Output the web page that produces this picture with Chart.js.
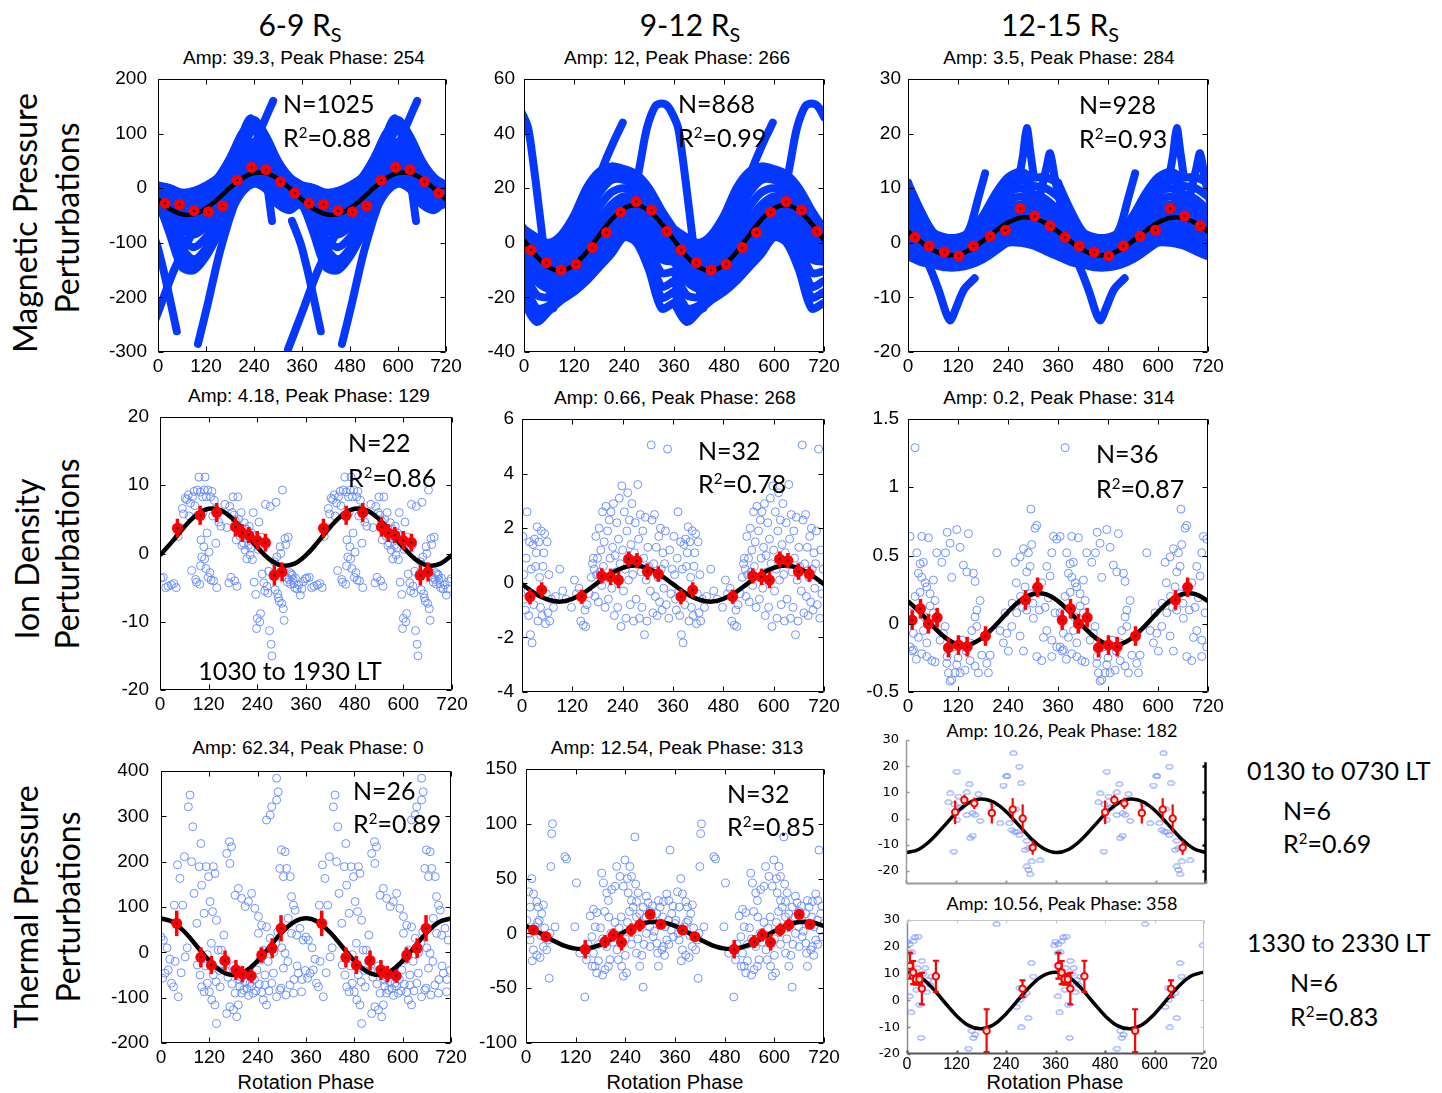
<!DOCTYPE html>
<html>
<head>
<meta charset="utf-8">
<script src="https://cdn.jsdelivr.net/npm/chart.js"></script>
<style>
  html, body { margin: 0; padding: 0; background: #fff; }
  body { width: 1442px; height: 1093px; position: relative; overflow: hidden;
         font-family: 'Liberation Sans', Arial, sans-serif; color: #000; }
  canvas { position: absolute; }
  .t { position: absolute; white-space: nowrap; line-height: 1; }
  .c { transform: translate(-50%, -50%); }
  .l { transform: translateY(-50%); }
  .rot { transform: translate(-50%, -50%) rotate(-90deg); }
  .cal { font-family: Lato, 'Open Sans', sans-serif; }
  .title { font-size: 30px; }
  .title sub { font-size: 0.66em; vertical-align: baseline; position: relative; top: 0.32em; }
  .amp { font-size: 19px; }
  .amp2 { font-size: 18px; }
  .ann { font-size: 25px; }
  .ann sup { font-size: 0.6em; vertical-align: baseline; position: relative; top: -0.62em; }
  .row { font-size: 32px; }
  .axt { font-size: 20px; }
</style>
</head>
<body>

<div class="t c cal title" style="left:300px;top:24px">6-9 R<sub>S</sub></div>
<div class="t c cal title" style="left:690px;top:24px">9-12 R<sub>S</sub></div>
<div class="t c cal title" style="left:1060px;top:24px">12-15 R<sub>S</sub></div>

<div class="t c amp" style="left:304px;top:57px">Amp: 39.3, Peak Phase: 254</div>
<div class="t c amp" style="left:677px;top:57px">Amp: 12, Peak Phase: 266</div>
<div class="t c amp" style="left:1059px;top:57px">Amp: 3.5, Peak Phase: 284</div>
<div class="t c amp" style="left:309px;top:395px">Amp: 4.18, Peak Phase: 129</div>
<div class="t c amp" style="left:675px;top:397px">Amp: 0.66, Peak Phase: 268</div>
<div class="t c amp" style="left:1059px;top:397px">Amp: 0.2, Peak Phase: 314</div>
<div class="t c amp" style="left:308px;top:747px">Amp: 62.34, Peak Phase: 0</div>
<div class="t c amp" style="left:677px;top:747px">Amp: 12.54, Peak Phase: 313</div>
<div class="t c cal amp2" style="left:1062px;top:730px">Amp: 10.26, Peak Phase: 182</div>
<div class="t c cal amp2" style="left:1062px;top:903px">Amp: 10.56, Peak Phase: 358</div>

<div class="t rot cal row" style="left:25px;top:223px">Magnetic Pressure</div>
<div class="t rot cal row" style="left:67px;top:218px">Perturbations</div>
<div class="t rot cal row" style="left:27px;top:559px">Ion Density</div>
<div class="t rot cal row" style="left:67px;top:554px">Perturbations</div>
<div class="t rot cal row" style="left:26px;top:907px">Thermal Pressure</div>
<div class="t rot cal row" style="left:68px;top:907px">Perturbations</div>

<div class="t c axt" style="left:306px;top:1082px">Rotation Phase</div>
<div class="t c axt" style="left:675px;top:1082px">Rotation Phase</div>
<div class="t c axt" style="left:1055px;top:1082px">Rotation Phase</div>

<div id="charts"></div>

<div class="t l cal ann" style="left:283px;top:103px">N=1025</div>
<div class="t l cal ann" style="left:283px;top:137px">R<sup>2</sup>=0.88</div>
<div class="t l cal ann" style="left:678px;top:103px">N=868</div>
<div class="t l cal ann" style="left:678px;top:137px">R<sup>2</sup>=0.99</div>
<div class="t l cal ann" style="left:1079px;top:104px">N=928</div>
<div class="t l cal ann" style="left:1079px;top:138px">R<sup>2</sup>=0.93</div>
<div class="t l cal ann" style="left:348px;top:442px">N=22</div>
<div class="t l cal ann" style="left:348px;top:477px">R<sup>2</sup>=0.86</div>
<div class="t c cal ann" style="left:290px;top:670px">1030 to 1930 LT</div>
<div class="t l cal ann" style="left:698px;top:450px">N=32</div>
<div class="t l cal ann" style="left:698px;top:483px">R<sup>2</sup>=0.78</div>
<div class="t l cal ann" style="left:1096px;top:453px">N=36</div>
<div class="t l cal ann" style="left:1096px;top:488px">R<sup>2</sup>=0.87</div>
<div class="t l cal ann" style="left:353px;top:790px">N=26</div>
<div class="t l cal ann" style="left:353px;top:823px">R<sup>2</sup>=0.89</div>
<div class="t l cal ann" style="left:727px;top:793px">N=32</div>
<div class="t l cal ann" style="left:727px;top:826px">R<sup>2</sup>=0.85</div>
<div class="t l cal ann" style="left:1247px;top:770px">0130 to 0730 LT</div>
<div class="t l cal ann" style="left:1283px;top:810px">N=6</div>
<div class="t l cal ann" style="left:1283px;top:843px">R<sup>2</sup>=0.69</div>
<div class="t l cal ann" style="left:1247px;top:942px">1330 to 2330 LT</div>
<div class="t l cal ann" style="left:1290px;top:982px">N=6</div>
<div class="t l cal ann" style="left:1290px;top:1016px">R<sup>2</sup>=0.83</div>

<script>
// phase grid for the fitted sinusoids (one rotation, repeated for the second)
const FIT_PHASE = [0, 30, 60, 90, 120, 150, 180, 210, 240, 270, 300, 330, 360];
const PHASE_TICKS = [0, 120, 240, 360, 480, 600, 720];

// ---- Magnetic pressure, 6-9 Rs
const mag69YTicks = [-300, -200, -100, 0, 100, 200];
const mag69Fit = [-20.8, -38.1, -47.8, -47.5, -37.1, -19.4, 0.8, 18.1, 27.8, 27.5, 17.1, -0.6, -20.8];
const mag69BinPhase = [18, 54, 90, 126, 162, 198, 234, 270, 306, 342];
const mag69BinVal = [-27.7, -29.5, -41.2, -43, -32.6, 14.5, 38.3, 34, 12, -8.8];
const mag69Band = [
  [5, 0, -8, -5, 5, 20, 55, 100, 125, 95, 50, 20, 5],
  [2, -6, -15, -16, -6, 12, 45, 88, 115, 85, 42, 16, 2],
  [0, -12, -22, -28, -18, 5, 35, 75, 105, 75, 35, 12, 0],
  [-4, -17, -28, -35, -25, -3, 27, 62, 85, 65, 32, 7, -4],
  [-8, -22, -35, -42, -32, -10, 20, 50, 65, 55, 28, 2, -8],
  [-13, -28, -44, -50, -40, -19, 11, 40, 55, 46, 20, -4, -13],
  [-18, -35, -52, -58, -48, -28, 2, 30, 45, 38, 12, -10, -18],
  [-22, -42, -63, -72, -59, -36, -6, 22, 38, 29, 6, -15, -22],
  [-25, -50, -75, -85, -70, -45, -15, 15, 30, 20, 0, -20, -25],
  [-28, -60, -92, -108, -90, -58, -22, 10, 24, 14, -9, -25, -28],
  [-30, -70, -110, -130, -110, -70, -30, 5, 18, 8, -18, -30, -30],
  [-26, -78, -128, -140, -118, -78, -38, -2, 13, 3, -24, -35, -26],
  [-22, -85, -145, -150, -125, -85, -45, -8, 8, -2, -30, -40, -22],
  [-5, -18, -38, -60, -48, -15, 45, 100, 115, 60, 22, 2, -5]
];
const mag69Tracks = [
  [[100, -285], [125, -210], [150, -130], [175, -65], [200, -10], [225, 45], [250, 95], [270, 130], [288, 160]],
  [[165, -40], [195, 30], [215, 105], [232, 128], [250, 95], [268, 30], [285, -60]],
  [[-25, -60], [-10, -88], [0, -110], [20, -170], [47, -262]],
  [[-35, -295], [0, -228], [40, -150], [80, -90], [110, -48]]
];

// ---- Magnetic pressure, 9-12 Rs
const mag912YTicks = [-40, -20, 0, 20, 40, 60];
const mag912Fit = [0.96, -4.9, -9.0, -10.2, -8.15, -3.46, 2.64, 8.5, 12.6, 13.8, 11.75, 7.06, 0.96];
const mag912BinPhase = [17, 54, 89, 125, 164, 198, 232, 269, 306, 343];
const mag912BinVal = [-2.6, -7.3, -10, -7.9, -1.7, 3.8, 11.2, 15.1, 12, 4.2];
const mag912Band = [
  [5, 2, 0, 3, 10, 20, 26, 28, 27, 25, 20, 12, 5],
  [3.5, -0.5, -2.5, 0, 6, 15, 22, 25.5, 25, 22.5, 17, 9, 3.5],
  [2, -3, -5, -3, 2, 10, 18, 23, 23, 20, 14, 6, 2],
  [1, -4.5, -7, -6, -2, 5, 13, 18.5, 20, 17.5, 12, 5, 1],
  [0, -6, -9, -9, -6, 0, 8, 14, 17, 15, 10, 4, 0],
  [-1.5, -7.5, -10.5, -11, -8, -2.5, 5, 11, 14.5, 13, 8, 2, -1.5],
  [-3, -9, -12, -13, -10, -5, 2, 8, 12, 11, 6, 0, -3],
  [-5, -11.5, -14.5, -15, -12, -7, -0.5, 6, 10.5, 9, 3.5, -3, -5],
  [-7, -14, -17, -17, -14, -9, -3, 4, 9, 7, 1, -6, -7],
  [-10.5, -19, -20, -18, -15, -10.5, -4.5, 2, 7, 5, -1.5, -11, -10.5],
  [-14, -24, -23, -19, -16, -12, -6, 0, 5, 3, -4, -16, -14],
  [-18, -26.5, -24, -20, -17, -13, -7.5, -2, 3.5, 1.5, -7, -20, -18],
  [-22, -29, -25, -21, -18, -14, -9, -4, 2, 0, -10, -24, -22]
];
const mag912Tracks = [
  [[262, 15], [280, 30], [295, 42], [315, 50], [330, 51], [345, 50], [360, 46], [370, 42], [380, 32], [390, 20], [402, 5], [415, -12], [430, -24]],
  [[140, 8], [165, 17], [190, 28], [215, 37], [237, 44]]
];

// ---- Magnetic pressure, 12-15 Rs
const mag1215YTicks = [-20, -10, 0, 10, 20, 30];
const mag1215Fit = [2.05, 0.23, -1.32, -2.2, -2.16, -1.23, 0.35, 2.17, 3.72, 4.6, 4.56, 3.63, 2.05];
const mag1215BinPhase = [17, 51, 87, 122, 157, 197, 234, 269, 304, 341];
const mag1215BinVal = [1.0, -0.6, -1.7, -2.4, -0.6, 1.2, 2.3, 6.3, 4.9, 3.1];
const mag1215Band = [
  [11, 6, 2, 1, 1, 2, 5, 9, 12, 13, 12, 12, 11],
  [8.5, 4.5, 1.5, 0.5, 0.5, 1.5, 4, 7.5, 10.5, 11.5, 10.5, 10, 8.5],
  [6, 3, 1, 0, 0, 1, 3, 6, 9, 10, 9, 8, 6],
  [4.5, 2.2, 0.5, -0.5, -0.5, 0.5, 2.5, 5, 7.5, 8.5, 7.5, 6.5, 4.5],
  [3, 1.5, 0, -1, -1, 0, 2, 4, 6, 7, 6, 5, 3],
  [2, 0.5, -1, -1.8, -1.8, -0.8, 1, 3, 4.8, 5.5, 4.5, 3.5, 2],
  [1, -0.5, -2, -2.5, -2.5, -1.5, 0, 2, 3.5, 4, 3, 2, 1],
  [0, -1.2, -2.5, -3, -3, -2.2, -0.8, 1, 2.2, 2.8, 2, 1, 0],
  [-1, -2, -3, -3.5, -3.5, -3, -1.5, 0, 1, 1.5, 1, 0, -1],
  [-1.8, -2.8, -3.5, -4, -4, -3.5, -2.2, -0.8, 0.5, 0.8, 0.2, -0.8, -1.8],
  [-2.5, -3.5, -4, -4.5, -4.5, -4, -3, -1.5, 0, 0, -0.5, -1.5, -2.5]
];
const mag1215Tracks = [
  [[130, 0], [150, 3], [168, 8], [185, 12.7]],
  [[30, -1], [55, -5], [75, -9], [92, -13], [102, -14.2], [115, -12], [135, -8.5], [160, -6.5]],
  [[262, 10], [276, 16], [285, 21], [293, 17], [302, 12]],
  [[318, 9], [333, 14], [341, 16.4], [352, 12], [370, 6], [392, 1]]
];

// ---- Ion density, 6-9 Rs
const ion69YTicks = [-20, -10, 0, 10, 20];
const ion69Fit = [-0.24, 1.74, 3.9, 5.66, 6.55, 6.32, 5.04, 3.06, 0.9, -0.86, -1.75, -1.52, -0.24];
const ion69BinPhase = [43, 99, 140, 186, 203, 219, 240, 260, 282, 301];
const ion69BinVal = [3.7, 5.6, 6.0, 3.9, 3.0, 2.7, 1.9, 1.6, -3.2, -2.7];
const ion69BinErr = [1.4, 1.4, 1.4, 1.4, 1.3, 1.2, 1.4, 1.3, 1.5, 1.4];
const ion69Points = [[2,-3.6],[8,-3.5],[14,-5],[20,-4.8],[28,-4.6],[34,-4.4],[40,-5],[45,2.5],[50,3.8],[55,6.6],[58,5.8],[62,8.1],[66,7.9],[70,8.6],[72,5.5],[75,7.4],[78,-2.5],[80,8.3],[84,9.1],[86,7],[88,-3.8],[90,-4.2],[92,9.3],[94,5.6],[96,11.2],[98,-4.5],[99,9],[100,-1.8],[101,2],[103,-0.5],[105,8.3],[106,6],[108,1],[109,9.3],[110,-0.8],[111,11.2],[113,-2.2],[114,8.3],[116,3],[118,9.3],[119,-3.5],[121,0.2],[123,-2.8],[125,8.3],[126,-3.9],[128,9.1],[130,5.5],[132,-4],[134,7.8],[136,6.5],[138,1.5],[140,-5],[145,4.6],[150,4],[160,7.2],[165,3.8],[170,-4.3],[172,6.9],[175,-3.5],[178,6],[180,8.3],[182,5.6],[184,-4],[186,4.8],[188,2],[190,-4.8],[192,8.3],[194,5],[196,3.8],[198,2.5],[200,6],[202,1.2],[204,3],[206,1.5],[208,4.5],[210,0.5],[212,3.6],[214,-0.8],[216,2.2],[218,1.2],[220,4],[222,-0.2],[224,0.8],[226,3],[228,-0.9],[230,6],[232,-4.2],[234,2.6],[236,-6],[238,-11],[240,-9.5],[242,0.6],[244,4.6],[246,-10],[248,-8.8],[250,2.4],[252,-3],[254,0.8],[256,-4.3],[258,-5.5],[260,7.2],[262,1.2],[264,-4.8],[266,-5.8],[268,-2.6],[270,-11.3],[272,6.9],[274,-13.3],[276,-15],[278,-3.3],[280,-2.9],[282,-1.2],[284,-5.3],[286,7.5],[288,-0.5],[290,-5.9],[292,-6.5],[294,-7],[296,1],[298,0],[300,-7.3],[302,9.3],[304,-8.1],[306,-9.8],[308,2.2],[310,1.3],[312,-3.5],[314,-4.2],[316,2.4],[318,-3.8],[320,-2.8],[322,-4.5],[324,-3],[326,-3.2],[328,-3.8],[330,-4.4],[332,-5],[334,-3.6],[338,-5.2],[342,-4.6],[346,-6.1],[350,-5.2],[354,-4.1],[358,-3.7]];

// ---- Ion density, 9-12 Rs
const ion912YTicks = [-4, -2, 0, 2, 4, 6];
const ion912Fit = [-0.05, -0.38, -0.61, -0.69, -0.59, -0.34, 0.0, 0.32, 0.55, 0.63, 0.53, 0.28, -0.05];
const ion912BinPhase = [19, 47, 142, 190, 211, 230, 254, 274, 299, 325];
const ion912BinVal = [-0.51, -0.26, -0.51, 0.25, 0.22, 0.1, 0.87, 0.81, 0.41, 0.32];
const ion912BinErr = [0.28, 0.28, 0.26, 0.28, 0.3, 0.3, 0.28, 0.28, 0.3, 0.28];
const ion912Points = [[2,1.7],[4,0.3],[6,-0.6],[8,-1.0],[10,0.9],[12,2.6],[14,-0.3],[16,-1.2],[18,1.5],[20,-1.9],[22,0.5],[24,-2.2],[26,1.4],[28,-0.8],[30,1.6],[32,0.6],[34,1.1],[36,2.05],[38,-1.4],[40,1.5],[42,0.2],[44,-0.9],[46,1.9],[48,-1.2],[50,0.6],[52,1.1],[54,1.8],[56,-1.5],[58,-0.4],[60,1.5],[62,-1.1],[64,0.3],[66,-1.4],[70,-0.6],[75,-0.9],[80,-0.5],[90,0.5],[97,-0.3],[105,-0.6],[118,-0.9],[125,0.1],[130,-0.4],[136,-0.2],[140,-1.4],[146,-1.55],[150,-1.0],[152,-1.6],[155,-0.8],[160,-0.4],[165,0.2],[168,0.7],[170,0.9],[172,0.5],[174,-0.5],[176,1.7],[178,0.3],[180,0.9],[182,-0.7],[184,2.0],[186,0.4],[188,1.2],[190,-0.1],[192,2.6],[194,0.6],[196,1.5],[198,-0.9],[200,2.8],[202,0.2],[204,1.9],[206,-0.6],[208,2.3],[210,0.9],[212,2.6],[214,-0.2],[216,1.3],[218,2.9],[220,-1.2],[222,1.0],[224,0.4],[226,2.2],[228,-0.9],[230,1.6],[232,3.1],[234,0.7],[236,-1.6],[238,3.55],[240,1.2],[242,-0.3],[244,2.6],[246,0.5],[248,-1.3],[250,1.9],[252,3.3],[254,0.1],[256,2.3],[258,-0.8],[260,1.4],[262,2.9],[264,0.3],[266,-1.4],[268,1.1],[270,2.2],[272,-0.6],[274,0.8],[276,3.6],[278,1.6],[280,-1.3],[282,2.5],[284,0.4],[286,-0.9],[288,1.9],[290,0.9],[292,-1.9],[294,2.4],[296,0.1],[298,-1.4],[300,1.3],[302,0.6],[306,-0.3],[308,5.05],[310,2.3],[312,-1.1],[314,0.7],[316,2.5],[318,-0.5],[320,1.3],[322,-1.2],[324,0.2],[326,1.7],[328,-0.7],[330,2.0],[332,0.5],[334,-1.0],[336,1.1],[338,-0.2],[340,0.7],[342,1.9],[344,-0.8],[347,4.9],[350,-1.3],[352,1.2],[355,-0.4],[358,0.5]];

// ---- Ion density, 12-15 Rs
const ion1215YTicks = [-0.5, 0, 0.5, 1, 1.5];
const ion1215Fit = [0.166, 0.08, -0.018, -0.103, -0.15, -0.149, -0.098, -0.012, 0.086, 0.171, 0.218, 0.217, 0.166];
const ion1215BinPhase = [10, 30, 49, 70, 97, 121, 142, 186, 282, 311];
const ion1215BinVal = [0.027, 0.11, 0.0, 0.045, -0.175, -0.156, -0.168, -0.09, 0.174, 0.267];
const ion1215BinErr = [0.072, 0.072, 0.072, 0.072, 0.072, 0.072, 0.072, 0.072, 0.072, 0.072];
const ion1215Points = [[5,0.64],[33,0.64],[49,0.63],[21,0.52],[29,0.44],[37,0.45],[25,0.37],[33,0.34],[41,0.3],[53,0.22],[29,0.23],[17,0.2],[5,0.08],[13,-0.07],[5,-0.17],[13,-0.19],[25,-0.1],[33,-0.22],[45,-0.24],[57,-0.27],[65,-0.28],[45,-0.14],[37,-0.05],[53,0.13],[61,0.08],[65,0.17],[69,0.52],[61,0.32],[45,0.27],[17,1.29],[81,0.45],[94,0.67],[101,0.59],[90,0.52],[117,0.69],[105,0.34],[85,-0.07],[94,-0.24],[97,-0.36],[101,-0.42],[105,-0.41],[113,-0.36],[117,-0.3],[109,-0.17],[93,-0.29],[89,-0.02],[125,0.56],[133,0.43],[141,0.38],[157,0.37],[161,0.31],[145,0.66],[125,-0.36],[137,-0.34],[149,-0.27],[161,-0.31],[169,-0.36],[177,-0.23],[149,-0.14],[165,-0.02],[165,0.1],[173,0.17],[161,0.05],[189,-0.29],[193,-0.36],[197,-0.23],[213,0.52],[221,-0.05],[229,-0.14],[237,-0.07],[249,-0.02],[241,-0.2],[233,0.08],[257,0.45],[269,0.49],[277,0.55],[285,0.38],[293,0.42],[289,0.52],[297,0.58],[305,0.7],[309,0.72],[295,0.84],[277,-0.2],[269,-0.09],[261,0.08],[285,0.1],[301,0.04],[309,-0.24],[321,-0.27],[293,0.22],[281,0.27],[321,0.3],[333,0.42],[341,0.35],[349,0.64],[357,0.62],[345,0.52],[337,0.19],[329,0.12],[353,0.08],[333,-0.05],[345,-0.12],[357,-0.17],[345,-0.24],[77,-0.12],[120,-0.25],[130,-0.12],[140,-0.2],[153,-0.05],[10,-0.2],[20,-0.26],[40,0.05],[57,0.0],[260,0.3],[270,0.2],[250,0.15],[300,0.15],[315,0.1],[325,-0.1],[275,0.12]];

// ---- Thermal pressure, 6-9 Rs
const th69YTicks = [-200, -100, 0, 100, 200, 300, 400];
const th69Fit = [75, 66.6, 43.7, 12.5, -18.7, -41.6, -50, -41.6, -18.7, 12.5, 43.7, 66.6, 75];
const th69BinPhase = [39, 99, 125, 159, 186, 202, 224, 250, 276, 298];
const th69BinVal = [64, -11, -28, -18, -39, -48, -52, -6, 9, 53];
const th69BinErr = [28, 22, 20, 22, 22, 18, 15, 17, 22, 29];
const th69Points = [[0,34],[6,27],[10,-46],[4,-57],[18,-39],[26,-68],[31,-76],[43,-98],[33,104],[41,193],[47,163],[54,104],[58,211],[68,321],[72,347],[79,277],[76,200],[82,130],[89,64],[95,189],[99,240],[101,148],[107,86],[112,189],[118,167],[130,189],[134,174],[122,112],[128,90],[138,71],[90,-28],[97,-50],[101,-76],[107,-87],[115,-68],[120,-87],[126,-105],[134,-116],[138,-157],[137,-65],[147,-76],[142,5],[150,5],[156,38],[163,218],[170,244],[175,233],[171,196],[184,126],[192,141],[200,119],[209,101],[217,112],[225,130],[233,97],[242,79],[163,-135],[171,-120],[180,-127],[188,-142],[192,-116],[184,-90],[196,-61],[209,-46],[221,-68],[229,-90],[205,-83],[242,42],[250,60],[262,292],[271,303],[275,321],[262,56],[271,31],[254,5],[246,-17],[238,-39],[254,-105],[262,-116],[275,-68],[279,-46],[287,384],[291,354],[287,336],[295,185],[299,226],[304,167],[308,222],[312,185],[321,167],[304,-35],[308,-2],[316,75],[324,123],[329,104],[333,93],[324,42],[337,38],[345,53],[353,27],[341,-46],[349,-87],[320,-72],[310,-94],[329,-90],[298,-79],[287,-98],[295,-83],[196,-75],[200,-90],[213,-80],[217,-95],[225,-75],[232,-60],[236,-85],[244,-70],[250,-88],[258,-72],[200,-55],[208,-65],[215,-50],[160,-40],[166,-55],[176,-70],[180,-30],[155,-20],[145,-40],[110,-30],[115,-5],[125,20],[130,-50],[268,-85],[258,-50],[266,-20],[280,0],[285,20],[290,45],[300,10],[315,-20],[330,-60],[338,-30],[350,-60],[358,-40],[15,10],[22,-15],[35,-20],[50,-45],[60,-10],[65,10]];

// ---- Thermal pressure, 9-12 Rs
const th912YTicks = [-100, -50, 0, 50, 100, 150];
const th912Fit = [6.8, 1.06, -5.4, -10.9, -13.9, -13.7, -10.3, -4.6, 1.9, 7.4, 10.4, 10.2, 6.8];
const th912BinPhase = [18, 48, 143, 191, 211, 231, 254, 275, 300, 326];
const th912BinVal = [3.1, -3, -14.5, -7.5, -1.4, -8.1, 3.1, 7.7, 17.4, 8.3];
const th912BinErr = [4.6, 3.6, 8.4, 6, 6, 7.6, 6, 6, 2, 2];
const th912Points = [[2,12],[6,38],[14,50],[10,24],[18,36],[26,29],[30,24],[38,18],[42,26],[32,12],[22,6],[10,-6],[18,-15],[26,-20],[34,-22],[42,-12],[50,-15],[54,-6],[58,0],[56,-41],[60,61],[64,100],[62,91],[70,6],[94,70],[98,68],[118,6],[122,46],[130,-18],[142,-58],[146,-24],[155,16],[163,22],[167,6],[159,-3],[171,19],[163,-18],[167,-30],[171,-36],[183,55],[187,46],[195,37],[199,30],[191,-33],[199,-30],[203,-24],[207,40],[215,43],[219,61],[227,52],[235,43],[223,-24],[231,-30],[235,-39],[243,-36],[239,67],[251,61],[255,52],[247,37],[259,24],[267,29],[271,37],[263,88],[267,15],[275,18],[283,24],[291,34],[283,-49],[275,-30],[267,-18],[291,0],[299,6],[307,12],[316,18],[324,24],[332,29],[340,36],[348,76],[320,-30],[332,-12],[340,-6],[351,3],[360,9],[307,-3],[316,-9],[328,-15],[336,6],[344,12],[352,18],[356,-3],[175,-10],[180,5],[185,-5],[195,-12],[205,0],[210,-8],[215,10],[220,-15],[225,5],[230,15],[240,-5],[245,10],[250,20],[255,-10],[260,5],[270,-5],[278,8],[285,-10],[290,15],[295,28],[300,-12],[305,25],[310,2],[318,-18],[325,8],[330,15],[335,-20],[345,-10],[355,25],[8,0],[15,-25],[28,10],[45,5],[36,-2],[150,-10],[160,-30],[175,-25],[185,-38],[240,-20],[280,-20],[300,20],[320,30],[345,30],[265,45],[255,30],[245,50],[200,15],[190,20]];

// ---- Thermal pressure, 12-15 Rs, 0130 to 0730 LT
const thDawnYTicks = [-20, -10, 0, 10, 20, 30];
const thDawnFit = [-13.0, -11.8, -8.2, -3.1, 2.1, 5.95, 7.5, 6.3, 2.7, -2.4, -7.6, -11.45, -13.0];
const thDawnBinPhase = [118, 140, 164, 206, 256, 280, 304];
const thDawnBinVal = [2.4, 7.1, 5.8, 2.1, 3.5, 0, -11.1];
const thDawnBinErr = [4.5, 2, 2.2, 4, 4.3, 5.4, 2.7];
const thDawnPoints = [[106,9.6],[102,6.2],[122,17.9],[116,5.4],[126,8.4],[130,4.2],[146,10],[152,13.1],[146,1.4],[160,2],[166,1.4],[174,9.3],[178,-0.9],[154,-7.5],[160,-6.5],[115,-12.6],[122,-0.5],[134,4.6],[210,5.4],[234,12.6],[242,16.3],[242,16.1],[258,24.9],[272,19.8],[276,13.5],[226,-1.8],[248,-1.8],[254,-4.4],[260,-5],[266,-5],[272,-6.3],[290,-8.5],[286,-12],[294,-11.4],[302,-16.4],[290,-18.3],[294,-19.6],[298,-21.3],[322,-16],[264,3.5]];

// ---- Thermal pressure, 12-15 Rs, 1330 to 2330 LT
const thDuskYTicks = [-20, -10, 0, 10, 20, 30];
const thDuskFit = [10.5, 8.9, 4.9, -0.5, -5.7, -9.4, -10.6, -9.1, -5.05, 0.27, 5.5, 9.2, 10.5];
const thDuskBinPhase = [7, 15, 22, 30, 36, 70, 193, 280];
const thDuskBinVal = [12.9, 10.4, 7.9, 7.9, 4.4, 9.0, -11.3, 4.4];
const thDuskBinErr = [4.8, 4.3, 2, 2, 5.9, 5.8, 8, 3.1];
const thDuskPoints = [[0,21.9],[7,21],[6,17.6],[19,23.5],[27,23.8],[36,14.7],[6,1.5],[10,-4.5],[34,-14],[31,-1.6],[36,6.4],[44,12],[52,7.7],[60,8.9],[56,5.8],[48,3],[23,4],[217,28.4],[149,-18],[157,-11.3],[165,-12.8],[161,-14],[277,-10.1],[266,-2.5],[273,4.6],[290,2.7],[282,1.5],[294,-6.6],[274,0.2],[302,13.9],[306,8.9],[357,20.5],[12,18],[15,22],[40,10],[25,12],[30,8]];

// ---------------------------------------------------------------
const BLUE = '#0538ff';
const CIRCLE = '#6087ff';
const AXW = 70, TOPPAD = 14, RIGHTPAD = 28, XAXH = 34;

function repeatFit(vals) {
  const out = FIT_PHASE.map((p, i) => ({x: p, y: vals[i]}));
  for (let i = 1; i < FIT_PHASE.length; i++) out.push({x: FIT_PHASE[i] + 360, y: vals[i]});
  return out;
}
function twice(phases, vals) {
  const out = [];
  [0, 360].forEach(o => phases.forEach((p, i) => out.push({x: p + o, y: vals[i]})));
  return out;
}
function twicePairs(pairs) {
  const out = [];
  [0, 360].forEach(o => pairs.forEach(([p, v]) => out.push({x: p + o, y: v})));
  return out;
}
function trackCopies(pairs) {
  return [-360, 0, 360].map(o => pairs.map(([p, v]) => ({x: p + o, y: v})));
}
function ellipseMark() {
  const c = document.createElement('canvas');
  c.width = 9; c.height = 6;
  const g = c.getContext('2d');
  g.strokeStyle = '#7090ff'; g.lineWidth = 1;
  g.beginPath(); g.ellipse(4.5, 3, 3.6, 2.2, 0, 0, Math.PI * 2); g.stroke();
  return c;
}
function noPad(s) { s.paddingTop = 0; s.paddingBottom = 0; s.paddingLeft = 0; s.paddingRight = 0; }

// box frame with inward tick marks
const framePlugin = {
  id: 'frame',
  afterDatasetsDraw(chart, args, o) {
    const {ctx, chartArea: a} = chart;
    const xs = chart.scales.x, ys = chart.scales.y;
    const s = o.sides, tl = o.tick || 0;
    const L = Math.round(a.left) + 0.5, R = Math.round(a.right) - 0.5;
    const T = Math.round(a.top) + 0.5, B = Math.round(a.bottom) - 0.5;
    const line = (x1, y1, x2, y2, st) => {
      ctx.strokeStyle = st.c; ctx.lineWidth = st.w;
      ctx.beginPath(); ctx.moveTo(x1, y1); ctx.lineTo(x2, y2); ctx.stroke();
    };
    ctx.save();
    const xt = xs.ticks.map(t => Math.round(xs.getPixelForValue(t.value)) + 0.5);
    const yt = ys.ticks.map(t => Math.round(ys.getPixelForValue(t.value)) + 0.5);
    if (s.left) { line(L, T, L, B, s.left); if (tl) yt.forEach(py => line(L, py, L + tl, py, s.left)); }
    if (s.right) {
      const top = s.right.from !== undefined ? ys.getPixelForValue(s.right.from) : T;
      line(R, top, R, B, s.right);
      if (tl) yt.forEach(py => { if (py >= top) line(R, py, R - tl, py, s.right); });
    }
    if (s.top) { line(L, T, R, T, s.top); if (tl) xt.forEach(px => line(px, T, px, T + tl, s.top)); }
    if (s.bottom) { line(L, B, R, B, s.bottom); if (tl) xt.forEach(px => line(px, B, px, B - tl, s.bottom)); }
    ctx.restore();
  }
};

// vertical error bars, drawn just before the red markers
const errorBarPlugin = {
  id: 'errorBars',
  beforeDatasetDraw(chart, args) {
    const ds = chart.data.datasets[args.index];
    if (!ds.errors) return;
    const {ctx, chartArea: a} = chart;
    const xs = chart.scales.x, ys = chart.scales.y;
    ctx.save();
    ctx.beginPath(); ctx.rect(a.left - 5, a.top, a.right - a.left + 10, a.bottom - a.top); ctx.clip();
    ctx.strokeStyle = '#ff0000'; ctx.lineWidth = ds.errWidth;
    ds.data.forEach((pt, i) => {
      const e = ds.errors[i];
      const px = xs.getPixelForValue(pt.x);
      const y1 = ys.getPixelForValue(pt.y - e), y2 = ys.getPixelForValue(pt.y + e);
      ctx.beginPath(); ctx.moveTo(px, y1); ctx.lineTo(px, y2);
      if (ds.errCap) {
        ctx.moveTo(px - ds.errCap, y1); ctx.lineTo(px + ds.errCap, y1);
        ctx.moveTo(px - ds.errCap, y2); ctx.lineTo(px + ds.errCap, y2);
      }
      ctx.stroke();
    });
    ctx.restore();
  }
};

const BOX = {c: '#000', w: 1};
const fullFrame = {sides: {left: BOX, right: BOX, top: BOX, bottom: BOX}, tick: 5};

const panels = [
  {box: [158, 79, 446, 352], y: [-300, 200], yTicks: mag69YTicks, yPad: 11, fit: mag69Fit,
   binPhase: mag69BinPhase, binVal: mag69BinVal, band: mag69Band, tracks: mag69Tracks},
  {box: [524, 79, 824, 352], y: [-40, 60], yTicks: mag912YTicks, yPad: 9, fit: mag912Fit,
   binPhase: mag912BinPhase, binVal: mag912BinVal, band: mag912Band, tracks: mag912Tracks},
  {box: [908, 79, 1208, 352], y: [-20, 30], yTicks: mag1215YTicks, yPad: 7, fit: mag1215Fit,
   binPhase: mag1215BinPhase, binVal: mag1215BinVal, band: mag1215Band, tracks: mag1215Tracks},
  {box: [160, 417, 452, 690], y: [-20, 20], yTicks: ion69YTicks, yPad: 11, fit: ion69Fit,
   binPhase: ion69BinPhase, binVal: ion69BinVal, binErr: ion69BinErr, points: ion69Points},
  {box: [522, 419, 824, 692], y: [-4, 6], yTicks: ion912YTicks, yPad: 8, fit: ion912Fit,
   binPhase: ion912BinPhase, binVal: ion912BinVal, binErr: ion912BinErr, points: ion912Points},
  {box: [908, 419, 1208, 692], y: [-0.5, 1.5], yTicks: ion1215YTicks, yPad: 9, fit: ion1215Fit,
   binPhase: ion1215BinPhase, binVal: ion1215BinVal, binErr: ion1215BinErr, points: ion1215Points},
  {box: [161, 771, 451, 1043], y: [-200, 400], yTicks: th69YTicks, yPad: 12, fit: th69Fit,
   binPhase: th69BinPhase, binVal: th69BinVal, binErr: th69BinErr, points: th69Points},
  {box: [526, 769, 824, 1043], y: [-100, 150], yTicks: th912YTicks, yPad: 9, fit: th912Fit,
   binPhase: th912BinPhase, binVal: th912BinVal, binErr: th912BinErr, points: th912Points},
  {box: [906, 740, 1206, 884], y: [-25, 30], yTicks: thDawnYTicks, yPad: 7, fit: thDawnFit, small: true,
   noXLabels: true, binPhase: thDawnBinPhase, binVal: thDawnBinVal, binErr: thDawnBinErr, points: thDawnPoints,
   frame: {sides: {left: {c: '#9a9a9a', w: 1.5}, bottom: {c: '#9a9a9a', w: 2}, right: {c: '#000', w: 2.5, from: 21.5}}, tick: 3}},
  {box: [907, 920, 1204, 1054], y: [-20, 30], yTicks: thDuskYTicks, yPad: 7, fit: thDuskFit, small: true, errCap: 3,
   binPhase: thDuskBinPhase, binVal: thDuskBinVal, binErr: thDuskBinErr, points: thDuskPoints,
   frame: {sides: {left: {c: '#8a8a8a', w: 1.5}, bottom: {c: '#555', w: 2}, top: {c: '#c4c4c4', w: 1}, right: {c: '#c4c4c4', w: 1}}, tick: 3}}
];

Chart.defaults.font.family = "'Liberation Sans', Arial, sans-serif";
Chart.defaults.color = '#000';
const ellipseImg = ellipseMark();
const holder = document.getElementById('charts');

function makePanel(p) {
  const [l, t, r, b] = p.box;
  const W = (r - l) + AXW + RIGHTPAD, H = (b - t) + TOPPAD + XAXH;
  const cv = document.createElement('canvas');
  cv.width = W; cv.height = H;
  Object.assign(cv.style, {left: (l - AXW) + 'px', top: (t - TOPPAD) + 'px', width: W + 'px', height: H + 'px'});
  holder.appendChild(cv);

  const datasets = [];
  const bins = twice(p.binPhase, p.binVal);
  datasets.push({
    data: bins, order: 0,
    errors: p.binErr ? p.binErr.concat(p.binErr) : null,
    errWidth: p.small ? 2.2 : 3.5, errCap: p.errCap || 0,
    pointRadius: p.small ? 3.2 : 5.5,
    pointBackgroundColor: p.small ? 'rgba(255,255,255,0.9)' : '#ff0000',
    pointBorderColor: '#ff0000', pointBorderWidth: p.small ? 2 : 0
  });
  if (!p.small) {
    datasets.push({data: bins, order: -1, pointRadius: 1.3, pointBackgroundColor: '#7a0000', pointBorderWidth: 0});
  }
  datasets.push({
    data: repeatFit(p.fit), order: 1, showLine: true, borderColor: '#000',
    borderWidth: p.small ? 3.5 : 4.5, pointRadius: 0, tension: 0.4
  });
  if (p.band) {
    const all = p.band.map(vals => FIT_PHASE.map((ph, i) => [ph, vals[i]])).concat(p.tracks);
    all.forEach(tr => trackCopies(tr).forEach(copy => datasets.push({
      data: copy, order: 2, showLine: true, borderColor: BLUE, borderWidth: 8,
      pointRadius: 0, tension: 0.3, borderCapStyle: 'round', borderJoinStyle: 'round'
    })));
  }
  if (p.points) {
    datasets.push(p.small ? {
      data: twicePairs(p.points), order: 2, pointStyle: ellipseImg, pointRadius: 4
    } : {
      data: twicePairs(p.points), order: 2, pointRadius: 4,
      pointBorderColor: CIRCLE, pointBorderWidth: 0.9, pointBackgroundColor: 'rgba(0,0,0,0)'
    });
  }

  const tickFontY = p.small ? {family: "'DejaVu Sans', sans-serif", size: 13} : {size: 19};
  const tickFontX = p.small ? {size: 16} : {size: 19};

  new Chart(cv, {
    type: 'scatter',
    data: {datasets},
    options: {
      responsive: false, animation: false, devicePixelRatio: 1,
      layout: {padding: {top: TOPPAD, right: RIGHTPAD, left: 0, bottom: 0}},
      plugins: {legend: {display: false}, tooltip: {enabled: false}, frame: p.frame || fullFrame},
      scales: {
        x: {
          type: 'linear', min: 0, max: 720,
          grid: {display: false, drawTicks: false}, border: {display: false},
          afterBuildTicks: s => { s.ticks = PHASE_TICKS.map(v => ({value: v})); },
          afterFit: s => { s.height = XAXH; noPad(s); },
          ticks: {display: !p.noXLabels, padding: p.small ? 1 : 3, font: tickFontX, color: '#000',
                  maxRotation: 0, autoSkip: false, callback: v => String(v)}
        },
        y: {
          type: 'linear', min: p.y[0], max: p.y[1],
          grid: {display: false, drawTicks: false}, border: {display: false},
          afterBuildTicks: s => { s.ticks = p.yTicks.map(v => ({value: v})); },
          afterFit: s => { s.width = AXW; noPad(s); },
          ticks: {padding: p.yPad, font: tickFontY, color: '#000', autoSkip: false, callback: v => String(v)}
        }
      }
    },
    plugins: [framePlugin, errorBarPlugin]
  });
}

panels.forEach(makePanel);
</script>
</body>
</html>
